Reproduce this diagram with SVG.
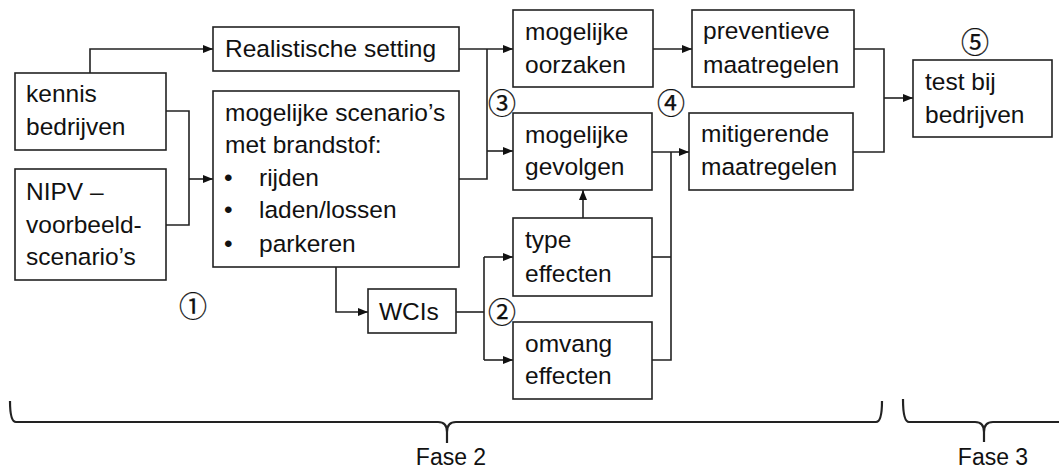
<svg xmlns="http://www.w3.org/2000/svg" width="1059" height="470" viewBox="0 0 1059 470">
<defs>
<marker id="arr" markerUnits="userSpaceOnUse" markerWidth="10" markerHeight="8" refX="10" refY="4" orient="auto">
<path d="M0,0 L10,4 L0,8 z" fill="#111"/>
</marker>
<style>
.box{fill:#fff;stroke:#222;stroke-width:1.6}
.t{font-family:"Liberation Sans",Arial,sans-serif;font-size:24.5px;fill:#111}
.c{fill:none;stroke:#222;stroke-width:1.6}
.a{fill:none;stroke:#222;stroke-width:1.6;marker-end:url(#arr)}
.n{font-family:"Noto Sans CJK JP","DejaVu Sans",sans-serif;font-size:28px;fill:#111;stroke:#111;stroke-width:0.25;text-anchor:middle}
.br{fill:none;stroke:#222;stroke-width:2.2}
.f{font-family:"Liberation Sans",Arial,sans-serif;font-size:23px;fill:#111;text-anchor:middle}
</style>
</defs>
<g id="connectors">
<path class="a" d="M90,73 V49 H213"/>
<path class="c" d="M166,111 H189 V225 H166"/>
<path class="a" d="M189,179 H213"/>
<path class="a" d="M459,49 H513"/>
<path class="c" d="M459,179 H487 V49"/>
<path class="a" d="M487,151 H513"/>
<path class="a" d="M653,49 H692"/>
<path class="a" d="M652,152 H689"/>
<path class="c" d="M671,152 V360 H652"/>
<path class="c" d="M652,257 H671"/>
<path class="a" d="M583,218 V190"/>
<path class="a" d="M336,267 V312 H368"/>
<path class="c" d="M456,312 H484"/>
<path class="c" d="M484,257 V360"/>
<path class="a" d="M484,257 H513"/>
<path class="a" d="M484,360 H513"/>
<path class="c" d="M854,49 H884 V152 H853"/>
<path class="a" d="M884,98 H913"/>
</g>
<g id="kennis"><rect class="box" x="15" y="73" width="151" height="77"/><text class="t" x="26" y="102">kennis</text><text class="t" x="26" y="135">bedrijven</text></g>
<g id="nipv"><rect class="box" x="15" y="169" width="151" height="111"/><text class="t" x="26" y="200">NIPV –</text><text class="t" x="26" y="233">voorbeeld-</text><text class="t" x="26" y="265">scenario’s</text></g>
<g id="realistische"><rect class="box" x="213" y="27" width="246" height="44"/><text class="t" x="225" y="57">Realistische setting</text></g>
<g id="scenarios"><rect class="box" x="213" y="91" width="246" height="176"/>
<text class="t" x="225" y="121">mogelijke scenario’s</text>
<text class="t" x="225" y="153">met brandstof:</text>
<text class="t" x="224" y="186">•</text><text class="t" x="259" y="186">rijden</text>
<text class="t" x="224" y="218">•</text><text class="t" x="259" y="218">laden/lossen</text>
<text class="t" x="224" y="252">•</text><text class="t" x="259" y="252">parkeren</text>
</g>
<g id="wcis"><rect class="box" x="368" y="289" width="88" height="44"/><text class="t" x="379" y="320">WCIs</text></g>
<g id="oorzaken"><rect class="box" x="513" y="10" width="140" height="77"/><text class="t" x="525" y="40">mogelijke</text><text class="t" x="525" y="73">oorzaken</text></g>
<g id="gevolgen"><rect class="box" x="513" y="113" width="139" height="77"/><text class="t" x="525" y="143">mogelijke</text><text class="t" x="525" y="175">gevolgen</text></g>
<g id="type"><rect class="box" x="513" y="218" width="139" height="78"/><text class="t" x="525" y="248">type</text><text class="t" x="525" y="282">effecten</text></g>
<g id="omvang"><rect class="box" x="513" y="322" width="139" height="77"/><text class="t" x="525" y="352">omvang</text><text class="t" x="525" y="384">effecten</text></g>
<g id="preventieve"><rect class="box" x="692" y="10" width="162" height="77"/><text class="t" x="703" y="39">preventieve</text><text class="t" x="703" y="73">maatregelen</text></g>
<g id="mitigerende"><rect class="box" x="689" y="113" width="164" height="77"/><text class="t" x="701" y="142">mitigerende</text><text class="t" x="701" y="175">maatregelen</text></g>
<g id="test"><rect class="box" x="913" y="60" width="139" height="77"/><text class="t" x="925" y="90">test bij</text><text class="t" x="925" y="123">bedrijven</text></g>
<g id="labels">
<text class="n" x="193" y="317">①</text>
<text class="n" x="502" y="323">②</text>
<text class="n" x="502" y="114">③</text>
<text class="n" x="671" y="114">④</text>
<text class="n" x="975" y="53">⑤</text>
</g>
<g id="braces">
<path class="br" d="M10,401 Q10,422 16,422 H438 Q447,422 447,432 V443 M447,432 Q447,422 456,422 H876 Q882,422 882,401"/>
<path class="br" d="M903,399 Q903,422 909,422 H975 Q984,422 984,432 V442 M984,432 Q984,422 993,422 H1059"/>
<text class="f" x="451" y="465">Fase 2</text>
<text class="f" x="993" y="465">Fase 3</text>
</g>
</svg>
